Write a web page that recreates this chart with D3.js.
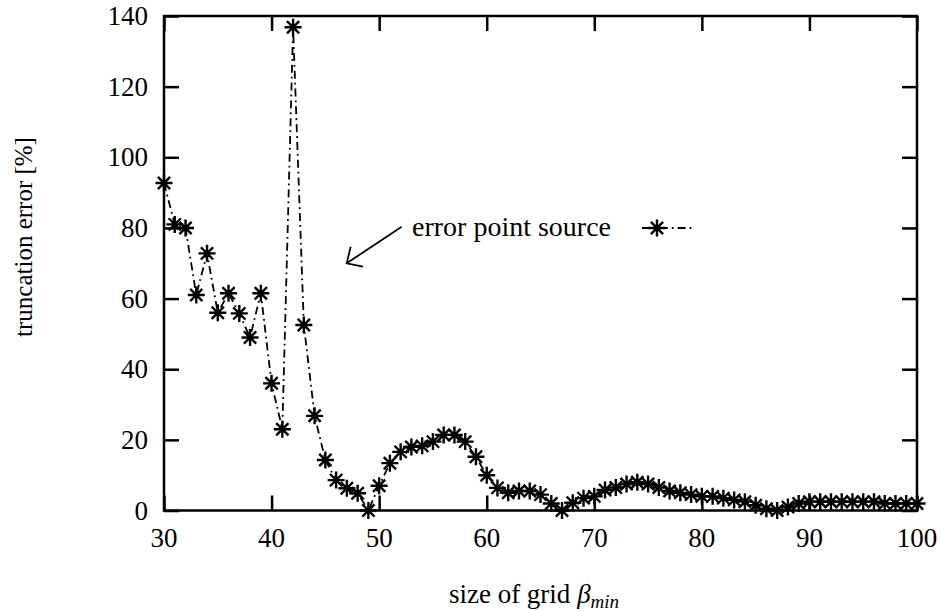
<!DOCTYPE html>
<html>
<head>
<meta charset="utf-8">
<script src="https://cdn.jsdelivr.net/npm/d3@7"></script>
<style>
  body { margin: 0; background: #fff; }
</style>
</head>
<body>
<div id="chart"></div>
<script>
// grid sizes (beta_min) and truncation error in percent
var gridSize = d3.range(30, 101);
var truncError = [
  92.7, 81, 80, 61, 72.8, 56, 61.5, 55.8, 49, 61.5,
  36, 23, 136.8, 52.5, 26.8, 14.3, 8.6, 6.3, 4.9, 0,
  7, 13.4, 16.6, 18, 18.3, 19.5, 21.4, 21.4, 19.5, 15.2,
  10, 6.4, 5, 5.5, 5.5, 4.5, 2, 0, 2.2, 3.5,
  4, 5.8, 6.5, 7.5, 8, 7.5, 6.5, 5.5, 5, 4.5,
  4, 4, 3.5, 3, 2.5, 1.5, 0.5, 0, 1, 2,
  2.5, 2.5, 2.5, 2.5, 2.5, 2.5, 2.5, 2, 2, 2,
  2
];
var xTicks = [30, 40, 50, 60, 70, 80, 90, 100];
var yTicks = [0, 20, 40, 60, 80, 100, 120, 140];
var seriesName = "error point source";

var W = 941, H = 611;
var plot = { left: 164, right: 917, top: 16, bottom: 510.5 };
var serif = "'Liberation Serif', 'Times New Roman', 'DejaVu Serif', serif";

var svg = d3.select("#chart").append("svg")
    .attr("width", W)
    .attr("height", H)
    .attr("font-family", serif);

var x = d3.scaleLinear().domain([30, 100]).range([plot.left, plot.right]);
var y = d3.scaleLinear().domain([0, 140]).range([plot.bottom, plot.top]);

var data = gridSize.map((g, i) => ({ g: g, v: truncError[i] }));

// star marker (+ overlaid with x)
function star(sel, cx, cy, r)
{
    var d = r * 0.72;
    var path = `M${cx - r},${cy}L${cx + r},${cy}M${cx},${cy - r}L${cx},${cy + r}` +
               `M${cx - d},${cy - d}L${cx + d},${cy + d}M${cx - d},${cy + d}L${cx + d},${cy - d}`;
    sel.append("path")
        .attr("d", path)
        .attr("stroke", "#000")
        .attr("stroke-width", 2.4)
        .attr("fill", "none");
}

// ticks (inward on all four sides)
var tickLen = 15;
var axes = svg.append("g");

axes.append("g")
    .attr("transform", `translate(0,${plot.bottom})`)
    .call(d3.axisTop(x).tickValues(xTicks).tickSize(tickLen).tickFormat(""));
axes.append("g")
    .attr("transform", `translate(0,${plot.top})`)
    .call(d3.axisBottom(x).tickValues(xTicks).tickSize(tickLen).tickFormat(""));
axes.append("g")
    .attr("transform", `translate(${plot.left},0)`)
    .call(d3.axisRight(y).tickValues(yTicks).tickSize(tickLen).tickFormat(""));
axes.append("g")
    .attr("transform", `translate(${plot.right},0)`)
    .call(d3.axisLeft(y).tickValues(yTicks).tickSize(tickLen).tickFormat(""));
axes.selectAll(".domain").remove();
axes.selectAll(".tick line").attr("stroke", "#000").attr("stroke-width", 2.5);

// frame
svg.append("rect")
    .attr("x", plot.left)
    .attr("y", plot.top)
    .attr("width", plot.right - plot.left)
    .attr("height", plot.bottom - plot.top)
    .attr("fill", "none")
    .attr("stroke", "#000")
    .attr("stroke-width", 2.5);

// tick labels
svg.append("g").selectAll("text")
    .data(xTicks)
    .enter().append("text")
    .attr("x", d => x(d))
    .attr("y", plot.bottom + 36)
    .attr("text-anchor", "middle")
    .attr("font-size", 27)
    .text(d => d);

svg.append("g").selectAll("text")
    .data(yTicks)
    .enter().append("text")
    .attr("x", plot.left - 16)
    .attr("y", d => y(d) + 9)
    .attr("text-anchor", "end")
    .attr("font-size", 27)
    .text(d => d);

// axis titles
svg.append("text")
    .attr("transform", `translate(32,237) rotate(-90)`)
    .attr("text-anchor", "middle")
    .attr("font-size", 25)
    .text("truncation error [%]");

var xl = svg.append("text")
    .attr("x", 534)
    .attr("y", 603)
    .attr("text-anchor", "middle")
    .attr("font-size", 27);
xl.append("tspan").text("size of grid ");
xl.append("tspan").attr("font-style", "italic").text("β");
xl.append("tspan").attr("font-style", "italic").attr("font-size", 19).attr("dy", 5).text("min");

// data line
var line = d3.line().x(d => x(d.g)).y(d => y(d.v));
svg.append("path")
    .datum(data)
    .attr("d", line)
    .attr("fill", "none")
    .attr("stroke", "#000")
    .attr("stroke-width", 1.8)
    .attr("stroke-dasharray", "8,4,1.8,4");

var marks = svg.append("g");
data.forEach(d => star(marks, x(d.g), y(d.v), 8.5));

// legend
svg.append("text")
    .attr("x", 412)
    .attr("y", 236)
    .attr("font-size", 28)
    .text(seriesName);
svg.append("line")
    .attr("x1", 642).attr("x2", 692)
    .attr("y1", 228).attr("y2", 228)
    .attr("stroke", "#000")
    .attr("stroke-width", 1.8)
    .attr("stroke-dasharray", "8,4,1.8,4");
star(svg, 657, 228, 8.5);

// arrow pointing at the curve
svg.append("path")
    .attr("d", "M401.7,226.7L346.7,263.3M350.7,246.7L346.7,263.3L363,266.7")
    .attr("fill", "none")
    .attr("stroke", "#000")
    .attr("stroke-width", 1.8);
</script>
</body>
</html>
